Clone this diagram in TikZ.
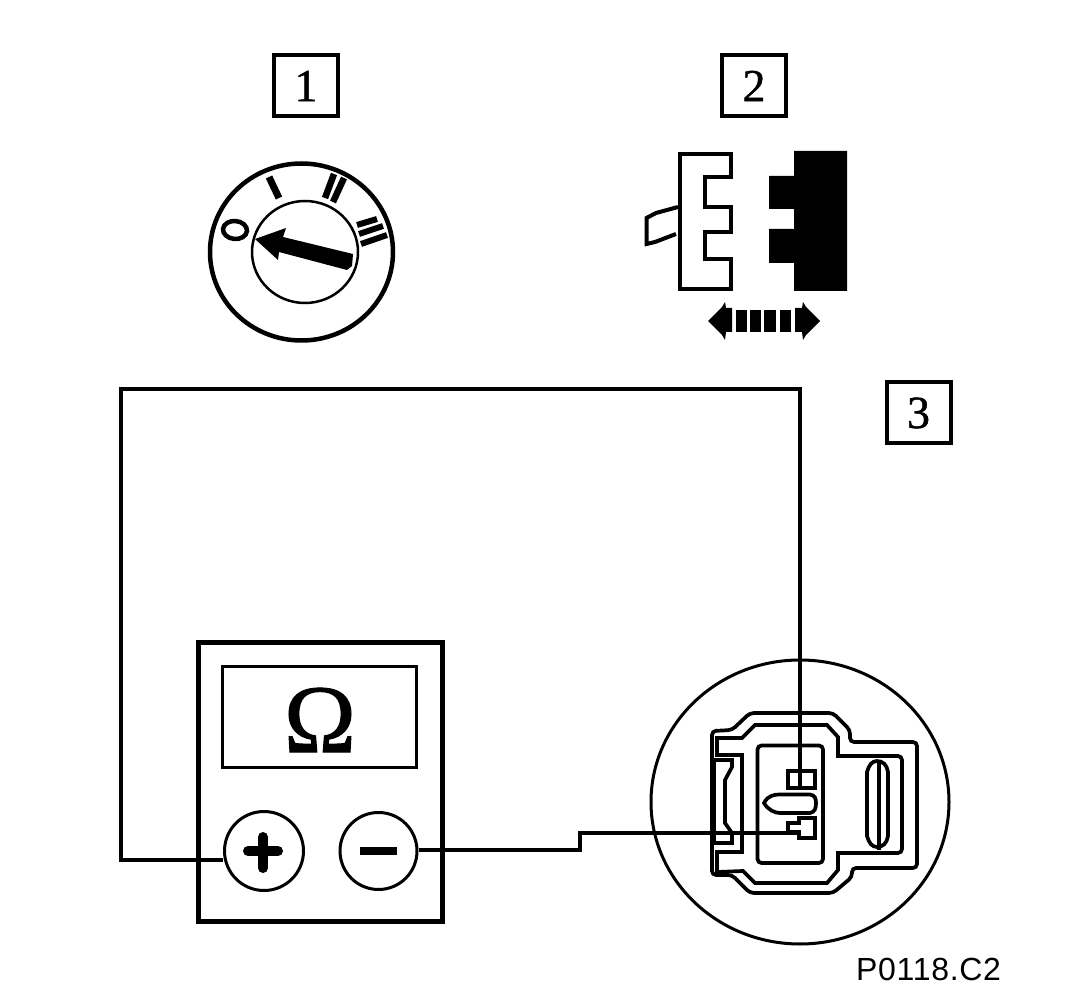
\documentclass[tikz,border=0pt]{standalone}
\usepackage{fontspec}
\setmainfont[FakeBold=0.5]{Liberation Serif}
\newfontfamily\boldserif[FakeBold=1]{Liberation Serif}
\newfontfamily\labelsans[LetterSpace=2.2]{Liberation Sans}
\begin{document}
\begin{tikzpicture}[x=1pt,y=-1pt,line join=miter,
  numbox/.style={draw,line width=4pt,minimum width=64pt,minimum height=61pt,inner sep=0pt,font=\boldserif\fontsize{46}{46}\selectfont},
  wire/.style={line width=4pt},
  plugline/.style={draw,line width=3.7pt},
  dialmark/.style={draw,line width=7pt},
  dialbar/.style={draw,line width=6pt},
  terminal/.style={circle,draw,line width=3pt,inner sep=0pt,minimum size=77pt}]
\useasboundingbox (0,0) rectangle (1088,1000);
\fill[white] (0,0) rectangle (1088,1000);
% number boxes
\node[numbox] (n1) at (306,86) {1};
\node[numbox] (n2) at (754,86) {2};
\node[numbox] (n3) at (918.5,413) {3};
% dial
\draw[line width=4.5pt] (301.5,252) ellipse [x radius=91.5,y radius=88.5];
\draw[line width=2.5pt] (305,252) ellipse [x radius=53,y radius=51];
\draw[line width=4.5pt,rotate around={-5:(235,230)}] (235,230) ellipse [x radius=12,y radius=9];
\draw[dialmark] (269,177) -- (279,198);
\draw[dialmark,line width=6.5pt] (334,174) -- (325,198);
\draw[dialmark,line width=6.5pt] (344,178) -- (333,202);
\draw[dialbar] (357,225) -- (377,219);
\draw[dialbar] (359,234) -- (383,226);
\draw[dialbar] (361,244) -- (387,235);
\fill (255,239) -- (286,228) -- (283,237) -- (353,254) -- (352,266) -- (347,270) -- (279,252) -- (278,260) -- cycle;
% connector 2
\draw[line width=4.5pt] (680,154) -- (731,154) -- (731,177) -- (705,177) -- (705,207) -- (731,207) -- (731,232) -- (705,232) -- (705,259) -- (731,259) -- (731,289) -- (680,289) -- cycle;
\draw[line width=4pt] (678,207) -- (656,213) -- (646.5,218) -- (646.5,244) -- (655,242) -- (676,234);
\fill (794,151) -- (847,151) -- (847,291) -- (794,291) -- (794,263) -- (769,263) -- (769,229) -- (794,229) -- (794,209) -- (769,209) -- (769,176) -- (794,176) -- cycle;
% double arrow
\fill (708,321) -- (722,307) -- (725,302) -- (726,308) -- (732,308) -- (732,332) -- (726,332) -- (725,340) -- (722,335) -- cycle;
\fill (820,321) -- (806,307) -- (803,302) -- (802,308) -- (795,308) -- (795,332) -- (802,332) -- (803,340) -- (806,335) -- cycle;
\fill (736,310) rectangle (747,332);
\fill (750,310) rectangle (761,332);
\fill (764,310) rectangle (776,332);
\fill (780,310) rectangle (791,332);
% meter
\draw[line width=5pt] (198.5,642.5) rectangle (442.5,921.5);
\draw[line width=3pt] (222.5,666.5) rectangle (416,767);
\node[inner sep=0pt,font=\boldserif\fontsize{97}{97}\selectfont] (om) at (320,720) {Ω};
\node[terminal,minimum size=79pt] (plus) at (264,851) {};
\node[terminal] (minus) at (378.5,851) {};
\draw[line width=10pt,line cap=round] (248,851) -- (278,851);
\draw[line width=10pt,line cap=round] (263,837) -- (263,868);
\draw[line width=8pt] (360,851) -- (397,851);
% big circle and plug
\draw[line width=3pt] (800,802) ellipse [x radius=149,y radius=142];
\draw[plugline,rounded corners=4pt] (712,731) -- (732,730) -- (750,713) -- (833,713) -- (850,730) -- (850,742) -- (917,742) -- (917,868) -- (852,868) -- (852,877) -- (833,893) -- (750,893) -- (732,875) -- (712,875) -- cycle;
\draw[plugline] (717,738) -- (742,738) -- (755,725) -- (827,725) -- (838,737) -- (838,756) [rounded corners=4pt] -- (902,756) -- (902,853) [sharp corners] -- (838,853) -- (838,870) -- (827,883) -- (755,883) -- (743,871) -- (717,872) -- (717,852) -- (742,852) -- (742,755) -- (717,755) -- cycle;
\draw[plugline] (714,760) -- (732,760) -- (732,767) -- (725,780) -- (725,823) -- (732,833) -- (732,843) -- (714,843) -- cycle;
\draw[line width=3.7pt,rounded corners=4pt] (757.5,745.5) rectangle (823,863);
\draw[plugline] (788,771) rectangle (815,788);
\draw[plugline] (764,803) .. controls (768,795) and (775,794.5) .. (780,794.5) -- (810,794.5) .. controls (815,795) and (816,799) .. (816,803) .. controls (816,808) and (815,812) .. (810,813) -- (780,813) .. controls (775,813) and (768,810) .. (764,803) -- cycle;
\draw[plugline] (788,823) -- (799,823) -- (799,818) -- (815,818) -- (815,838) -- (799,838) -- (799,832) -- (788,832) -- cycle;
\draw[plugline] (867,772) .. controls (869,765) and (872,761) .. (877,761) .. controls (883,761) and (887,765) .. (888,772) -- (888,836) .. controls (887,843) and (883,847) .. (877,847) .. controls (872,847) and (869,843) .. (867,836) -- cycle;
\draw[line width=3.5pt] (879,761) -- (879,850);
% wires
\coordinate (tl) at (121,389);
\coordinate (tr) at (800,389);
\coordinate (bl) at (121,860);
\coordinate (tt) at (800,789);
\coordinate (m1) at (580,850);
\coordinate (m2) at (580,833);
\coordinate (lt) at (800,833);
\draw[wire] (plus.west |- bl) -- (bl) -- (tl) -- (tr) -- (tt);
\draw[wire] (minus.east |- m1) -- (m1) -- (m2) -- (lt);
\node[anchor=base west,inner sep=0pt,font=\labelsans\fontsize{32}{32}\selectfont] (ref) at (856,980) {P0118.C2};
\end{tikzpicture}
\end{document}
